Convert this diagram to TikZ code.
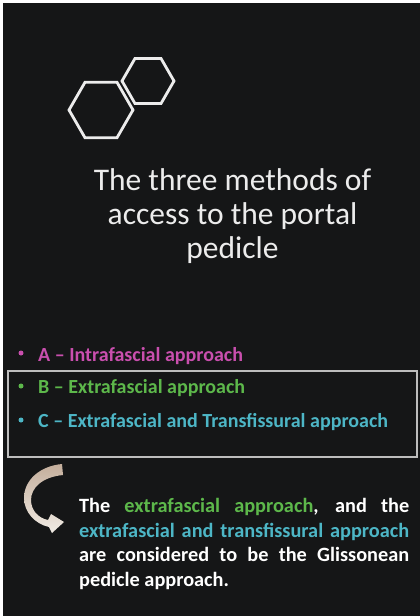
\documentclass[tikz,border=0pt]{standalone}
\usepackage{fontspec}
\setmainfont{Carlito}
\usetikzlibrary{shapes.geometric}
\definecolor{bgc}{HTML}{151617}
\definecolor{magc}{HTML}{C94FAE}
\definecolor{grnc}{HTML}{5DB84B}
\definecolor{cyac}{HTML}{4DB6C6}
\definecolor{ttlc}{HTML}{ECECEC}
\definecolor{boxc}{HTML}{BDBDBD}
\definecolor{arrtop}{HTML}{C4AE9C}
\definecolor{arrbot}{HTML}{F0EBE4}
\begin{document}
\begin{tikzpicture}[x=1pt,y=-1pt,
  hexa/.style={draw=ttlc, line width=2.8pt, regular polygon, regular polygon sides=6, inner sep=0pt},
  ttl/.style={anchor=base, inner sep=0pt, text=ttlc, font=\fontsize{31.5}{34}\selectfont},
  itm/.style={anchor=base west, inner sep=0pt, font=\bfseries\fontsize{20}{24}\selectfont},
  dotb/.style={circle, inner sep=0pt, minimum size=5pt},
  para/.style={anchor=base west, inner sep=0pt, text=white, font=\bfseries\fontsize{20.3}{24.5}\selectfont}]
\useasboundingbox (0,0) rectangle (420,616);
\fill[white] (0,0) rectangle (420,616);
\fill[bgc] (2.5,2.5) rectangle (420,616);
% hexagons
\node[hexa, minimum size=64pt] (hexA) at (101,110) {};
\node[hexa, minimum size=52pt] (hexB) at (148,81) {};
% title
\node[ttl] (t1) at (232.5,190) {The three methods of};
\node[ttl] (t2) at (232.5,224) {access to the portal};
\node[ttl] (t3) at (232.5,258) {pedicle};
% box
\draw[boxc, line width=2pt] (8,371) rectangle (417,457);
% list
\node[dotb, fill=magc] (da) at (21,353) {};
\node[dotb, fill=grnc] (db) at (21,386) {};
\node[dotb, fill=cyac] (dc) at (21,420) {};
\node[itm, text=magc] (ia) at (38,361) {A – Intrafascial approach};
\node[itm, text=grnc] (ib) at (38,393) {B – Extrafascial approach};
\node[itm, text=cyac] (ic) at (38,427) {C – Extrafascial and Transfissural approach};
% curved arrow
\shade[top color=arrtop, bottom color=arrbot]
  (62,464) .. controls (40,466) and (24,480) .. (24,498)
  .. controls (24,512) and (35,524) .. (49,527)
  -- (52,533) -- (64,522) -- (51,514) -- (48,520)
  .. controls (38,518) and (31,510) .. (31,500)
  .. controls (31,488) and (42,477) .. (63,475) -- cycle;
% paragraph
\node[para] (p1) at (79,512.5) {\makebox[330pt][s]{The \textcolor{grnc}{extrafascial approach}, and the}};
\node[para] (p2) at (79,537) {\makebox[330pt][s]{\textcolor{cyac}{extrafascial and transfissural approach}}};
\node[para] (p3) at (79,561.5) {\makebox[330pt][s]{are considered to be the Glissonean}};
\node[para] (p4) at (79,586) {pedicle approach.};
\end{tikzpicture}
\end{document}
